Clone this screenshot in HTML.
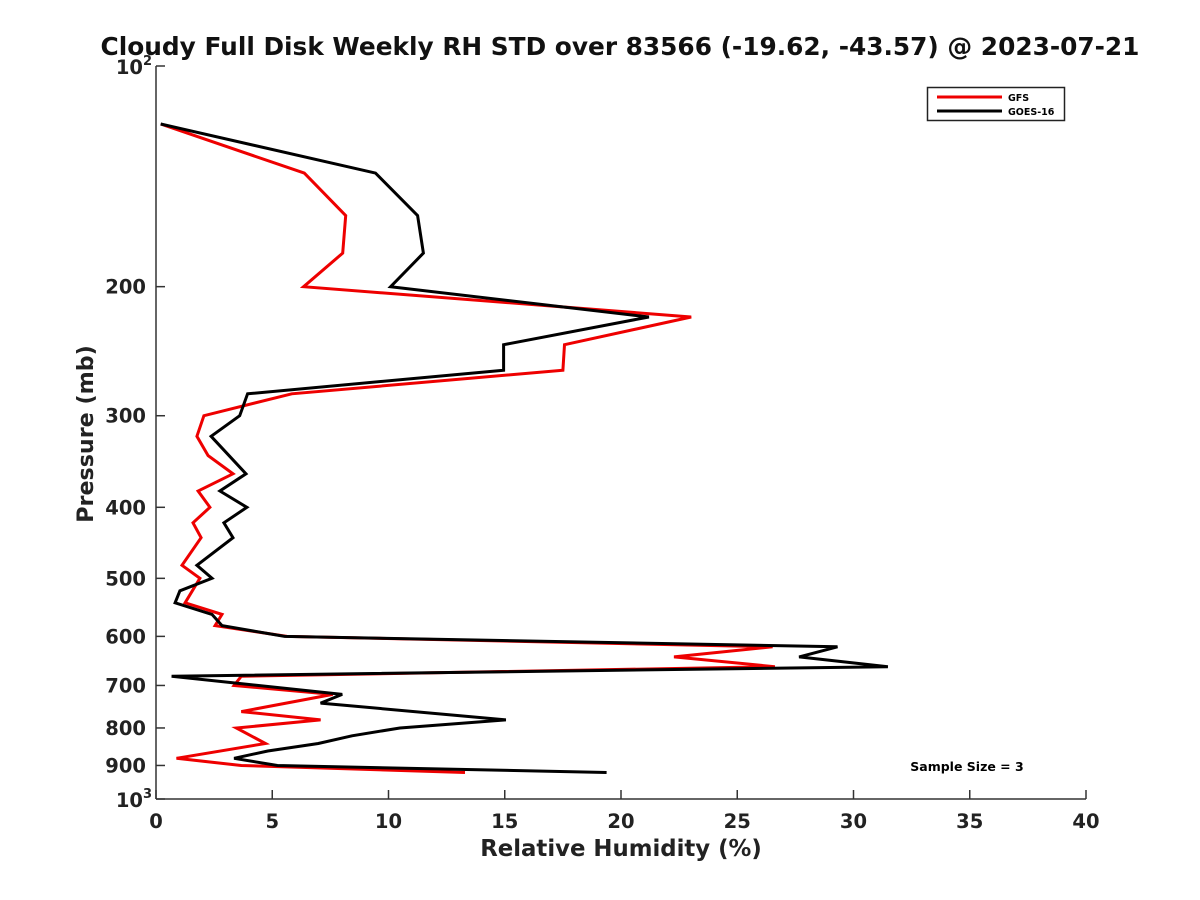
<!DOCTYPE html>
<html><head><meta charset="utf-8"><style>
body{margin:0;background:#fff;}
svg{display:block;font-family:"DejaVu Sans","Liberation Sans",sans-serif;}
</style></head><body>
<svg id="chart" width="1200" height="900" viewBox="0 0 1200 900">
<rect width="1200" height="900" fill="#fff"/>
<text x="620" y="55" text-anchor="middle" font-size="24.8" font-weight="bold" fill="#111">Cloudy Full Disk Weekly RH STD over 83566 (-19.62, -43.57) @ 2023-07-21</text>
<g id="axes"></g>
<g id="series"></g>
<text x="621" y="856" text-anchor="middle" font-size="22.8" font-weight="bold" fill="#222">Relative Humidity (%)</text>
<text transform="translate(93,434) rotate(-90)" text-anchor="middle" font-size="22.2" font-weight="bold" fill="#222">Pressure (mb)</text>
<text x="967" y="771" text-anchor="middle" font-size="12.5" font-weight="bold" fill="#000">Sample Size = 3</text>
<g>
<rect x="927.5" y="87.5" width="137" height="33" fill="#fff" stroke="#222" stroke-width="1.5"/>
<line x1="937" y1="97" x2="1002" y2="97" stroke="#e00" stroke-width="3"/>
<text x="1008" y="101" font-size="9.5" font-weight="bold">GFS</text>
<line x1="937" y1="111" x2="1002" y2="111" stroke="#000" stroke-width="3"/>
<text x="1008" y="115" font-size="9.5" font-weight="bold">GOES-16</text>
</g>
</svg>
<script>
const gfsPressure = [120,140,160,180,200,220,240,260,280,300,320,340,360,380,400,420,440,480,500,540,560,580,600,620,640,660,680,700,720,760,780,800,840,880,900,920];
const gfsRH = [0.2,6.38,8.16,8.03,6.35,23.02,17.57,17.5,5.84,2.06,1.76,2.24,3.31,1.81,2.32,1.59,1.94,1.12,1.89,1.25,2.84,2.54,5.63,26.52,22.28,26.62,3.67,3.36,7.6,3.67,7.08,3.46,4.71,0.88,3.67,13.29];
const goesPressure = [120,140,160,180,200,220,240,260,280,300,320,360,380,400,420,440,480,500,520,540,560,580,600,620,640,660,680,720,740,780,800,820,840,860,880,900,920];
const goesRH = [0.2,9.44,11.25,11.5,10.09,21.2,14.95,14.95,3.94,3.6,2.37,3.87,2.75,3.91,2.92,3.31,1.76,2.41,1.03,0.82,2.41,2.84,5.53,29.31,27.66,31.48,0.67,8.01,7.08,15.05,10.49,8.43,6.98,4.81,3.36,5.22,19.38];
const xTicks = [0,5,10,15,20,25,30,35,40];
const yTicks = [200,300,400,500,600,700,800,900];

const NS = "http://www.w3.org/2000/svg";
const L=156,R=1086,T=66,B=799;
const xs = v => L + (v-0)/(40-0)*(R-L);
const ys = p => T + (Math.log10(p)-2)*(B-T);
function mk(tag, attrs, parent){const e=document.createElementNS(NS,tag);for(const k in attrs)e.setAttribute(k,attrs[k]);parent.appendChild(e);return e;}
const ax=document.getElementById('axes');
let e;
e=mk('line',{x1:L,y1:T,x2:L,y2:B,stroke:'#333','stroke-width':1.5},ax);


e=mk('line',{x1:L,y1:B,x2:R,y2:B,stroke:'#333','stroke-width':1.5},ax);


xTicks.forEach(v=>{
  const t=mk('line',{x1:xs(v),y1:B,x2:xs(v),y2:B-9,stroke:'#333','stroke-width':1.5},ax);
  
  
  const l=mk('text',{x:xs(v),y:B+29,'text-anchor':'middle','font-size':19.5,'font-weight':'bold',fill:'#222'},ax);
  l.textContent=v;
  
  
});
[100].concat(yTicks,[1000]).forEach(p=>{
  const t=mk('line',{x1:L,y1:ys(p),x2:L+9,y2:ys(p),stroke:'#333','stroke-width':1.5},ax);
  
  
});
yTicks.forEach(p=>{
  const l=mk('text',{x:L-10,y:ys(p)+7,'text-anchor':'end','font-size':19.5,'font-weight':'bold',fill:'#222'},ax);
  l.textContent=p;
  
  
});
[[100,'2'],[1000,'3']].forEach(([p,ex])=>{
  const l=mk('text',{x:L-13,y:ys(p)+8,'text-anchor':'end','font-size':19.5,'font-weight':'bold',fill:'#222'},ax);
  l.textContent='10';
  
  
  const s=mk('text',{x:L-13,y:ys(p)-1,'font-size':13,'font-weight':'bold',fill:'#222'},ax);
  s.textContent=ex;
  
  
});
const sg=document.getElementById('series');
function line(pr,rh,color,name){
  const pts=pr.map((p,i)=>xs(rh[i]).toFixed(1)+','+ys(p).toFixed(1)).join(' ');
  const pl=mk('polyline',{points:pts,fill:'none',stroke:color,'stroke-width':3,'stroke-linejoin':'miter'},sg);
  
  
}
line(gfsPressure,gfsRH,'#e00','gfs-line');
line(goesPressure,goesRH,'#000','goes16-line');
</script>
</body></html>
